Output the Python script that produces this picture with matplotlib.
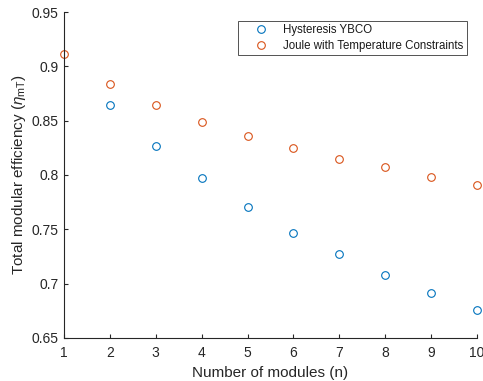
import matplotlib
matplotlib.use("Agg")
import matplotlib.pyplot as plt

plt.rcParams["font.family"] = ["Liberation Sans", "DejaVu Sans"]
plt.rcParams["mathtext.fontset"] = "custom"
plt.rcParams["mathtext.it"] = "Liberation Sans:italic"
plt.rcParams["mathtext.rm"] = "Liberation Sans"

# number of modules and efficiencies for each loss model
n_joule = [1, 2, 3, 4, 5, 6, 7, 8, 9, 10]
eta_joule = [0.911, 0.884, 0.864, 0.849, 0.836, 0.825, 0.815, 0.807, 0.798, 0.791]
n_hyst = [2, 3, 4, 5, 6, 7, 8, 9, 10]
eta_hyst = [0.864, 0.827, 0.797, 0.771, 0.747, 0.727, 0.708, 0.691, 0.676]

C_BLUE = "#0072BD"
C_ORANGE = "#D95319"
AX_COL = "0.15"

fig = plt.figure(figsize=(4.83, 3.81), dpi=100)
ax = fig.add_axes([0.1325, 0.1129, 0.855, 0.8556])

ax.plot(n_hyst, eta_hyst, "o", ms=5.5, mfc="none", mec=C_BLUE, mew=0.8,
        label="Hysteresis YBCO", clip_on=False)
ax.plot(n_joule, eta_joule, "o", ms=5.5, mfc="none", mec=C_ORANGE, mew=0.8,
        label="Joule with Temperature Constraints", clip_on=False)

ax.set_xlim(1, 10)
ax.set_ylim(0.65, 0.95)
ax.set_xticks(range(1, 11))
ax.set_yticks([0.65, 0.7, 0.75, 0.8, 0.85, 0.9, 0.95])
ax.set_yticklabels(["0.65", "0.7", "0.75", "0.8", "0.85", "0.9", "0.95"])

for s in ("top", "right"):
    ax.spines[s].set_visible(False)
for s in ("left", "bottom"):
    ax.spines[s].set_color(AX_COL)
    ax.spines[s].set_linewidth(0.8)
ax.tick_params(direction="in", length=3, width=0.8, color=AX_COL,
               labelcolor=AX_COL, labelsize=10, pad=4)
ax.tick_params(axis="x", pad=5.5)

ax.set_xlabel("Number of modules (n)", fontsize=11, color=AX_COL, labelpad=4.5)
ax.set_ylabel(r"Total modular efficiency ($\eta_{\mathrm{mT}}$)", fontsize=11,
              color=AX_COL, labelpad=2.5)

leg = ax.legend(loc="upper right", bbox_to_anchor=(0.976, 0.973), fontsize=8.3,
                frameon=True, fancybox=False, borderpad=0.3, handlelength=3.4,
                handletextpad=0.2, labelspacing=0.3, borderaxespad=0)
leg.get_frame().set_edgecolor("0.15")
leg.get_frame().set_linewidth(0.7)
for t in leg.get_texts():
    t.set_color("0.1")

fig.savefig("out.png", dpi=100)
